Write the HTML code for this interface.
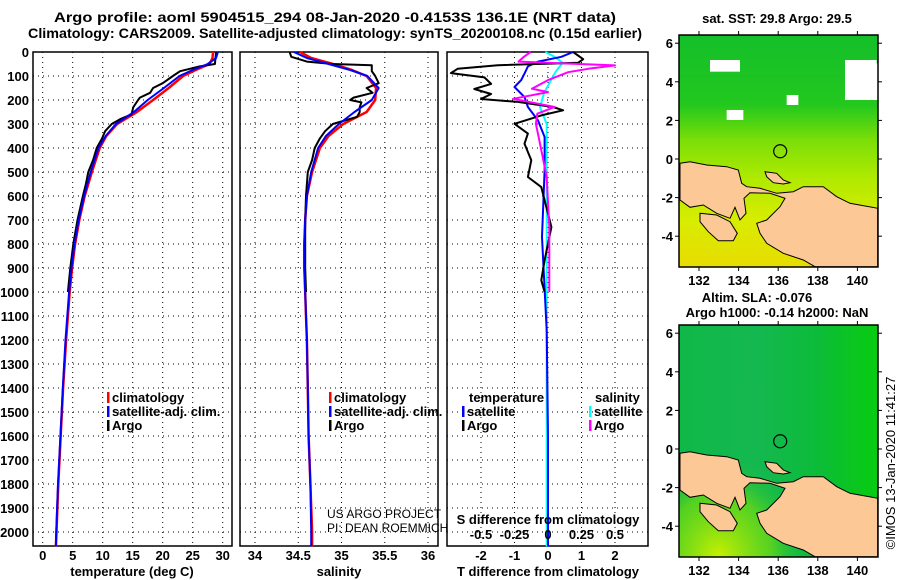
<!DOCTYPE html>
<html><head><meta charset="utf-8">
<style>
html,body{margin:0;padding:0;background:#fff;}
svg{display:block;font-family:"Liberation Sans",sans-serif;}
.b{font-weight:bold;font-size:13px;}
.n{font-weight:normal;font-size:12px;}
.t{font-weight:bold;font-size:14px;}
</style></head>
<body>
<svg id="chart" width="900" height="580" viewBox="0 0 900 580" xmlns="http://www.w3.org/2000/svg">
<defs>
<linearGradient id="sstGrad" x1="0" y1="0" x2="0" y2="1">
<stop offset="0" stop-color="#14bf2a"/><stop offset="0.3" stop-color="#22c81e"/>
<stop offset="0.45" stop-color="#7ade08"/><stop offset="0.62" stop-color="#b0ea00"/>
<stop offset="0.8" stop-color="#d8ec00"/><stop offset="1" stop-color="#e8dc00"/>
</linearGradient>
<linearGradient id="slaGrad" x1="0" y1="0" x2="1" y2="0">
<stop offset="0" stop-color="#10b848"/><stop offset="0.4" stop-color="#14b850"/>
<stop offset="0.7" stop-color="#0cbc38"/><stop offset="1" stop-color="#08cc10"/>
</linearGradient>
<radialGradient id="slaYel" cx="0.2" cy="1" r="0.45">
<stop offset="0" stop-color="#c8f000"/><stop offset="0.6" stop-color="#70dc10" stop-opacity="0.7"/><stop offset="1" stop-color="#10b848" stop-opacity="0"/>
</radialGradient>
</defs>
</svg>
<script>
// ---- data ----
const tickDepths = [0,100,200,300,400,500,600,700,800,900,1000,1100,1200,1300,1400,1500,1600,1700,1800,1900,2000];
const tempTicks = [0,5,10,15,20,25,30];
const salTicks = [34,34.5,35,35.5,36];
const salTickLabels = ["34","34.5","35","35.5","36"];
const dTTicks = [-2,-1,0,1,2];
const dSTicks = [-0.5,-0.25,0,0.25,0.5];
const dSTickLabels = ["-0.5","-0.25","0","0.25","0.5"];

const climDepth = [0,25,50,75,100,150,200,250,300,350,400,500,600,700,800,900,1000,1100,1200,1400,1600,1800,2000,2060];
const climT = [28.4,28.3,27.8,25.5,23.4,21.0,18.4,15.7,12.4,10.6,9.5,8.2,7.0,6.1,5.4,4.9,4.5,4.2,3.9,3.4,3.0,2.6,2.3,2.2];
const satT  = [29.2,28.9,27.5,25.0,22.8,20.2,17.5,15.2,12.2,10.5,9.3,8.0,6.9,6.0,5.3,4.8,4.4,4.1,3.8,3.35,2.95,2.55,2.25,2.2];
const climS = [34.52,34.65,34.9,35.12,35.29,35.4,35.39,35.29,35.02,34.85,34.75,34.66,34.6,34.58,34.57,34.57,34.58,34.59,34.6,34.61,34.62,34.64,34.66,34.66];
const satS  = [34.45,34.6,34.85,35.1,35.3,35.43,35.35,35.15,34.97,34.82,34.73,34.65,34.6,34.58,34.57,34.57,34.58,34.59,34.6,34.61,34.62,34.64,34.65,34.65];

const argoTDepth = [0,50,60,80,100,130,150,170,190,200,230,260,280,300,330,360,400,450,500,550,600,700,800,900,1000];
const argoT = [28.9,28.7,26.2,22.9,21.7,20.0,18.4,17.9,16.2,15.9,15.1,14.8,12.9,11.5,10.4,9.9,9.0,8.4,7.6,7.2,6.7,5.8,5.1,4.6,4.2];
const argoSDepth = [0,20,40,50,55,80,100,130,150,170,190,200,210,230,250,270,300,330,360,400,450,500,600,700,800,900,1000];
const argoS = [34.40,34.42,34.60,34.9,35.35,35.35,35.39,35.43,35.29,35.36,35.14,35.10,35.23,35.21,35.21,35.18,34.9,34.81,34.75,34.69,34.66,34.61,34.59,34.58,34.58,34.58,34.59];

const dArgoTDepth = [0,30,45,55,70,88,106,133,154,175,196,208,229,243,264,299,340,382,451,521,563,618,729,868,951,1000];
const dArgoT = [0.75,1.05,0.9,-1.5,-2.7,-2.9,-1.9,-1.7,-2.2,-1.7,-2.0,-0.9,0.15,0.45,-0.2,-1.0,-0.6,-0.7,-0.5,-0.6,-0.2,-0.1,0.1,-0.1,-0.2,-0.1];
const dSatTDepth = [0,20,40,60,90,117,146,188,229,285,354,493,771,1160,1600,2060];
const dSatT = [0.75,0.4,-0.3,-0.6,-0.7,-0.8,-1.0,-0.7,-0.6,-0.3,-0.1,-0.1,-0.18,-0.04,0,0];
const dSatSDepth = [0,20,45,80,120,170,230,300,400,600,1000,1500,2060];
const dSatS = [-0.02,0.05,0.11,0.06,0.02,-0.03,-0.06,-0.01,-0.01,-0.01,-0.01,-0.01,-0.01];
const dArgoSDepth = [0,20,40,56,70,84,117,153,167,195,229,257,299,382,521,729,979,1000];
const dArgoS = [-0.13,-0.18,-0.22,0.5,0.3,0.15,0.0,-0.12,0.0,-0.26,0.05,-0.08,-0.09,-0.06,-0.01,0.01,0.01,0.01];

const lonTicks = [132,134,136,138,140];
const latTicks = [-4,-2,0,2,4,6];
const argoLon = [136.1];
const argoLat = [0.4];

// ---- helpers ----
const NS = "http://www.w3.org/2000/svg";
const svg = document.getElementById("chart");
function mk(tag, attrs, parent) {
  const e = document.createElementNS(NS, tag);
  for (const k in attrs) e.setAttribute(k, attrs[k]);
  (parent || svg).appendChild(e);
  return e;
}
function txt(s, x, y, anchor, cls, parent) {
  const t = mk("text", {x: x, y: y, "text-anchor": anchor || "start", "class": cls || "b"}, parent);
  t.textContent = s;
  return t;
}
const yD = d => 52 + d * 0.24;
const xT = t => 42.7 + t * 6;
const xS = s => 255 + (s - 34) * 86.5;
const xDT = v => 548 + v * 33.5;
const xDS = v => 548 + v * 134;
const TOP = 52, BOT = 546;

function grp(name) {
  const g = mk("g", {});
  
  
  return g;
}

function panel(name, x0, x1, xticks, xfn, labels) {
  const g = grp(name);
  tickDepths.forEach(d => {
    if (d > 0) {
      const l = mk("line", {x1: x0, x2: x1, y1: yD(d), y2: yD(d), stroke: "#000", "stroke-width": 1, "stroke-dasharray": "1,4"}, g);
      
      
    }
  });
  xticks.forEach((v, i) => {
    const x = xfn(v);
    if (x > x0 + 2 && x < x1 - 2) {
      const l = mk("line", {x1: x, x2: x, y1: TOP, y2: BOT, stroke: "#000", "stroke-width": 1, "stroke-dasharray": "1,4"}, g);
      
      
    }
    const t = txt(labels ? labels[i] : String(v), x, 560, "middle", "b", g);
    
    
  });
  const r = mk("rect", {x: x0, y: TOP, width: x1 - x0, height: BOT - TOP, fill: "none", stroke: "#000", "stroke-width": 1.5}, g);
  
  
  return g;
}

function series(g, name, depths, vals, xfn, color, w) {
  const pts = depths.map((d, i) => xfn(vals[i]).toFixed(1) + "," + yD(d).toFixed(1)).join(" ");
  const p = mk("polyline", {points: pts, fill: "none", stroke: color, "stroke-width": w || 2, "stroke-linejoin": "round"}, g);
  
  
}

// ---- titles ----
let t1 = txt("Argo profile: aoml 5904515_294 08-Jan-2020 -0.4153S 136.1E (NRT data)", 335, 22, "middle", "t");


t1.setAttribute("textLength", "562");
t1.setAttribute("lengthAdjust", "spacingAndGlyphs");
let t2 = txt("Climatology: CARS2009. Satellite-adjusted climatology: synTS_20200108.nc (0.15d earlier)", 335, 38, "middle", "t");


t2.setAttribute("textLength", "614");
t2.setAttribute("lengthAdjust", "spacingAndGlyphs");

// depth axis labels
const yax = grp("depth-axis");
tickDepths.forEach(d => {
  const t = txt(String(d), 29, yD(d) + 5, "end", "b", yax);
  
  
});

// ---- panel 1: temperature ----
const p1 = panel("temperature-panel", 33, 232, tempTicks, xT);
series(p1, "temperature-climatology-line", climDepth, climT, xT, "#f00", 2.5);
series(p1, "temperature-argo-line", argoTDepth, argoT, xT, "#000", 2);
series(p1, "temperature-satellite-line", climDepth, satT, xT, "#00f", 2);
let a1 = txt("temperature (deg C)", 132, 576, "middle", "b", p1);



// ---- panel 2: salinity ----
const p2 = panel("salinity-panel", 240, 438, salTicks, xS, salTickLabels);
series(p2, "salinity-climatology-line", climDepth, climS, xS, "#f00", 2.5);
series(p2, "salinity-argo-line", argoSDepth, argoS, xS, "#000", 2);
series(p2, "salinity-satellite-line", climDepth, satS, xS, "#00f", 2);
let a2 = txt("salinity", 339, 576, "middle", "b", p2);


let us1 = txt("US ARGO PROJECT", 327, 518, "start", "n", p2);


let us2 = txt("PI: DEAN ROEMMICH", 327, 532, "start", "n", p2);



// ---- panel 3: differences ----
const p3 = panel("difference-panel", 447, 648, dTTicks, xDT);
series(p3, "salinity-diff-satellite-line", dSatSDepth, dSatS, xDS, "#0ff", 2);
series(p3, "temperature-diff-satellite-line", dSatTDepth, dSatT, xDT, "#00f", 2);
series(p3, "temperature-diff-argo-line", dArgoTDepth, dArgoT, xDT, "#000", 2);
series(p3, "salinity-diff-argo-line", dArgoSDepth, dArgoS, xDS, "#f0f", 2);
let a3 = txt("T difference from climatology", 548, 576, "middle", "b", p3);


let a4 = txt("S difference from climatology", 548, 524, "middle", "b", p3);


dSTicks.forEach((v, i) => {
  const t = txt(dSTickLabels[i], xDS(v), 539, "middle", "b", p3);
  
  
});

// ---- legends ----
function legendRow(g, x, y, color, label) {
  const m = mk("rect", {x: x, y: y - 10, width: 2.5, height: 11, fill: color}, g);
  
  
  const t = txt(label, x + 5, y, "start", "b", g);
  
  
}
const lg1 = grp("temperature-legend");
legendRow(lg1, 107, 402, "#f00", "climatology");
legendRow(lg1, 107, 416, "#00f", "satellite-adj. clim.");
legendRow(lg1, 107, 430, "#000", "Argo");
const lg2 = grp("salinity-legend");
legendRow(lg2, 329, 402, "#f00", "climatology");
legendRow(lg2, 329, 416, "#00f", "satellite-adj. clim.");
legendRow(lg2, 329, 430, "#000", "Argo");
const lg3 = grp("difference-legend");
let lt = txt("temperature", 469, 402, "start", "b", lg3);


let ls = txt("salinity", 595, 402, "start", "b", lg3);


legendRow(lg3, 462, 416, "#00f", "satellite");
legendRow(lg3, 462, 430, "#000", "Argo");
legendRow(lg3, 589, 416, "#0ff", "satellite");
legendRow(lg3, 589, 430, "#f0f", "Argo");

// ---- maps ----
const landPts = [[90,490],[120,485],[170,495],[230,500],[265,510],[275,550],[290,560],[330,565],[380,580],[430,575],[460,560],[520,560],[560,590],[600,610],[683,625],[683,800],[495,800],[460,780],[400,760],[350,730],[330,700],[320,670],[350,660],[390,620],[405,595],[360,580],[300,578],[282,595],[288,640],[270,660],[255,622],[240,655],[200,640],[160,615],[120,622],[90,600]];
const land2 = [[150,640],[200,645],[240,665],[262,700],[250,722],[205,722],[175,695],[150,665]];
const island = [[345,515],[380,520],[400,540],[420,548],[400,552],[370,548],[350,530]];
function mapLayer(name, y0, fillSpec) {
  const g = grp(name);
  const X = xx => 650 + xx / 3, Y = yy => y0 + yy / 3;
  const lonX = lon => 699 + (lon - 132) * 19.8;
  const latY = lat => y0 + 159 - lat * 19.3;
  mk("rect", {x: 679, y: y0 + 35, width: 199, height: 232, fill: fillSpec}, g);
  return {g, X, Y, lonX, latY, y0};
}
function finishMap(m) {
  const g = m.g, y0 = m.y0;
  [landPts, land2, island].forEach(pl => {
    const p = mk("polygon", {points: pl.map(q => m.X(q[0]).toFixed(1) + "," + m.Y(q[1]).toFixed(1)).join(" "), fill: "#fcc896", stroke: "#000", "stroke-width": 1}, g);
    
    
  });
  argoLon.forEach((lon, i) => {
    const c = mk("circle", {cx: m.lonX(lon), cy: m.latY(argoLat[i]), r: 6.5, fill: "none", stroke: "#000", "stroke-width": 1.2}, g);
    
    
  });
  mk("rect", {x: 679, y: y0 + 35, width: 199, height: 232, fill: "none", stroke: "#000", "stroke-width": 1.5}, g);
  lonTicks.forEach(lon => {
    const x = m.lonX(lon);
    mk("line", {x1: x, x2: x, y1: y0 + 267, y2: y0 + 271, stroke: "#000"}, g);
    mk("line", {x1: x, x2: x, y1: y0 + 31, y2: y0 + 35, stroke: "#000"}, g);
    const t = txt(String(lon), x, y0 + 285, "middle", "b", g);
    
    
  });
  latTicks.forEach(lat => {
    const y = m.latY(lat);
    mk("line", {x1: 675, x2: 679, y1: y, y2: y, stroke: "#000"}, g);
    mk("line", {x1: 878, x2: 882, y1: y, y2: y, stroke: "#000"}, g);
    const t = txt(String(lat), 673, y + 5, "end", "b", g);
    
    
  });
}
const m1 = mapLayer("sst-map", 0, "url(#sstGrad)");
[[180,180,270,215],[585,180,680,300],[410,285,445,315],[230,330,280,360],[650,190,683,300]].forEach(r => {
  const w = mk("rect", {x: m1.X(r[0]), y: m1.Y(r[1]), width: (r[2]-r[0])/3, height: (r[3]-r[1])/3, fill: "#fff"}, m1.g);
  
  
});
finishMap(m1);
let mt1 = txt("sat. SST: 29.8 Argo: 29.5", 777, 23, "middle", "b");



const m2 = mapLayer("sla-map", 290, "url(#slaGrad)");
mk("rect", {x: 679, y: 325, width: 199, height: 232, fill: "url(#slaYel)"}, m2.g);
finishMap(m2);
let mt2 = txt("Altim. SLA: -0.076", 757, 302, "middle", "b");


let mt3 = txt("Argo h1000: -0.14 h2000: NaN", 777, 317, "middle", "b");



let cr = txt("©IMOS 13-Jan-2020 11:41:27", 0, 0, "middle", "n");
cr.setAttribute("font-size", "13");
cr.setAttribute("style", "font-size:13px");
cr.setAttribute("transform", "translate(895,463) rotate(-90)");


</script>
</body></html>
